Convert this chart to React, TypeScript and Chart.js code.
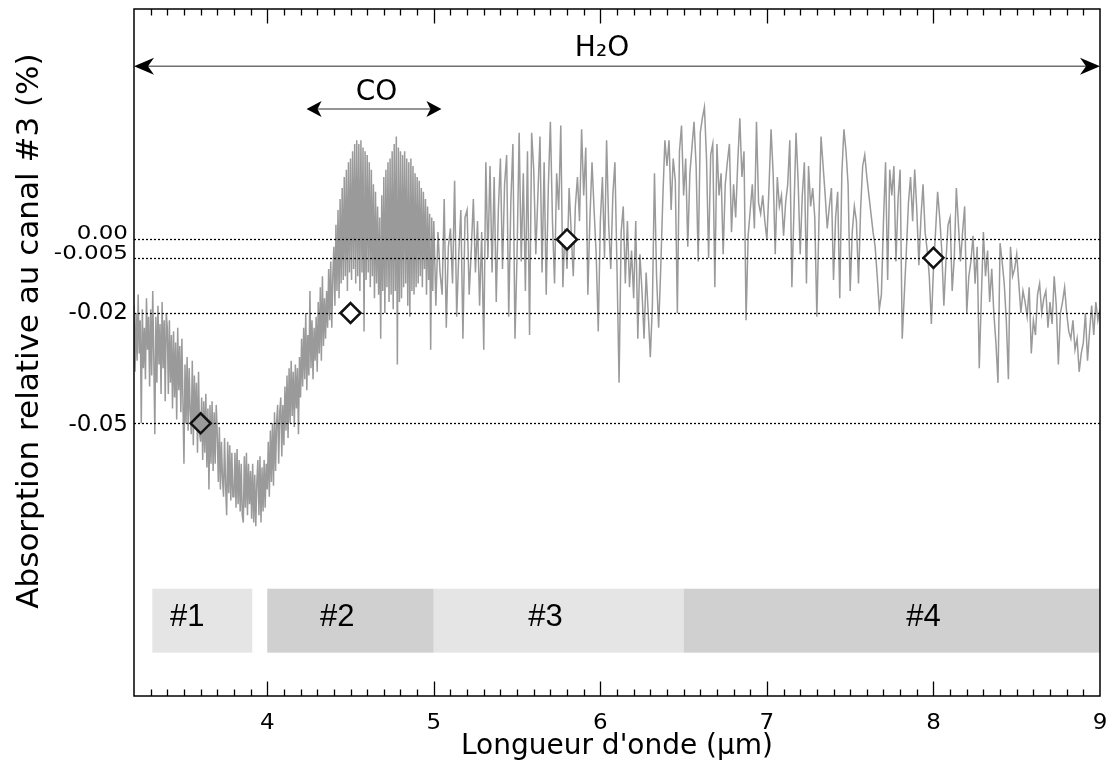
import { useEffect, useRef } from "react";
import { Chart, registerables } from "chart.js";

Chart.register(...registerables);

// ---- spectrum, part A: 3.2 µm to 5.0 µm, sampled every 0.00625 µm ----
const SEGMENT_A_START = 3.2;
const SEGMENT_A_STEP = 0.00625;
const ABSORPTION_A = [
  -0.018, -0.036, -0.02, -0.033, -0.015, -0.031, -0.022, -0.05, -0.019, -0.035, -0.024, -0.038, -0.016, -0.03, -0.021, -0.04,
  -0.019, -0.037, -0.014, -0.032, -0.053, -0.021, -0.039, -0.018, -0.034, -0.023, -0.042, -0.017, -0.035, -0.022, -0.044, -0.02,
  -0.024, -0.042, -0.022, -0.039, -0.026, -0.046, -0.025, -0.043, -0.028, -0.049, -0.024, -0.041, -0.029, -0.047, -0.027, -0.044,
  -0.061, -0.034, -0.05, -0.032, -0.052, -0.035, -0.047, -0.053, -0.033, -0.056, -0.037, -0.051, -0.039, -0.058, -0.036, -0.053,
  -0.055, -0.043, -0.06, -0.044, -0.058, -0.042, -0.062, -0.046, -0.068, -0.045, -0.061, -0.044, -0.063, -0.047, -0.061, -0.045,
  -0.053, -0.066, -0.051, -0.068, -0.055, -0.065, -0.07, -0.054, -0.067, -0.075, -0.055, -0.069, -0.056, -0.071, -0.058, -0.07,
  -0.07, -0.058, -0.073, -0.057, -0.072, -0.06, -0.074, -0.061, -0.075, -0.077, -0.059, -0.073, -0.058, -0.075, -0.061, -0.072,
  -0.063, -0.076, -0.061, -0.077, -0.064, -0.078, -0.066, -0.06, -0.075, -0.059, -0.077, -0.062, -0.074, -0.06, -0.073, -0.061,
  -0.068, -0.055, -0.07, -0.052, -0.066, -0.05, -0.067, -0.047, -0.063, -0.05, -0.045, -0.061, -0.047, -0.043, -0.059, -0.045,
  -0.056, -0.04, -0.052, -0.037, -0.054, -0.035, -0.05, -0.033, -0.048, -0.036, -0.051, -0.034, -0.046, -0.035, -0.053, -0.032,
  -0.043, -0.027, -0.04, -0.024, -0.038, -0.02, -0.041, -0.026, -0.037, -0.014, -0.035, -0.022, -0.038, -0.024, -0.033, -0.021,
  -0.036, -0.017, -0.031, -0.013, -0.033, -0.01, -0.029, -0.016, -0.027, -0.014, -0.024, -0.008, -0.022, -0.006, -0.024, -0.01,
  -0.002, -0.018, 0.004, -0.014, 0.008, -0.016, 0.011, -0.012, 0.014, -0.011, 0.017, -0.01, 0.019, -0.014, 0.021, -0.009,
  0.022, -0.011, 0.024, -0.008, 0.026, -0.012, 0.027, -0.01, 0.026, -0.014, 0.027, -0.009, 0.025, -0.025, 0.024, -0.011,
  0.023, -0.009, 0.021, -0.013, 0.019, -0.01, 0.015, -0.016, 0.013, -0.012, 0.009, -0.015, 0.006, -0.027, 0.012, -0.014,
  0.017, -0.02, 0.019, -0.013, 0.021, -0.017, 0.022, -0.015, 0.024, -0.019, 0.026, -0.014, 0.028, -0.034, 0.025, -0.017,
  0.024, -0.016, 0.023, -0.013, 0.024, -0.012, 0.022, -0.018, 0.021, -0.021, 0.022, -0.014, 0.02, -0.015, 0.018, -0.013,
  0.017, -0.012, 0.016, -0.01, 0.014, -0.013, 0.013, -0.008, 0.011, -0.015, 0.009, -0.011, 0.007, -0.03, 0.006, -0.014,
];

// ---- spectrum, part B: 5.0 µm to 9.0 µm, sampled every 0.0125 µm ----
const SEGMENT_B_START = 5.0;
const SEGMENT_B_STEP = 0.0125;
const ABSORPTION_B = [
  0.005, -0.018, 0.002, -0.009, -0.015, 0.011, -0.024, -0.002,
  0.003, -0.012, 0.016, -0.021, -0.004, 0.008, -0.027, 0.006,
  0.008, -0.015, -0.003, 0.011, -0.009, 0.005, -0.018, 0.002,
  -0.03, 0.021, -0.005, 0.02, -0.009, 0.017, -0.017, 0.008,
  0.022, -0.008, 0.015, 0.023, -0.021, 0.01, 0.026, -0.027,
  -0.004, 0.029, -0.006, 0.018, -0.014, 0.024, -0.026, 0.029,
  0.019, -0.004, 0.012, 0.028, -0.009, 0.021, -0.015, 0.014,
  0.032, 0.005, -0.012, 0.018, 0.008, 0.031, -0.013, 0.003,
  -0.008, 0.014, 0.002, -0.01, 0.009, 0.017, 0.005, 0.03,
  0.012, 0.025, -0.015, 0.006, 0.021, 0.008, -0.004, -0.025,
  0.005, 0.017, -0.005, 0.027, 0.004, -0.008, 0.012, 0.021,
  -0.008, -0.039, 0.002, 0.009, -0.012, 0.005, -0.013, -0.003,
  -0.016, 0.005, -0.027, -0.004, -0.014, -0.027, -0.009, -0.02,
  -0.032, -0.018, 0.018, -0.01, -0.024, -0.008, 0.011, 0.027,
  0.02, 0.027, 0.008, 0.022, 0.016, -0.02, 0.024, 0.031,
  0.012, 0.022, -0.002, 0.018, 0.025, 0.032, 0.02, -0.006,
  0.029, 0.033, 0.036, 0.022, -0.005, 0.023, 0.026, -0.013,
  0.026, 0.012, 0.018, -0.004, 0.015, 0.021, 0.026, 0.002,
  0.015, 0.006, 0.021, 0.033, 0.017, 0.024, -0.022, 0.001,
  0.008, 0.015, 0.003, 0.032, 0.01, 0.007, 0.012, 0.005,
  0.0, 0.014, 0.03, 0.018, -0.004, 0.017, 0.009, 0.012,
  0.001, 0.01, 0.015, 0.027, -0.013, 0.008, 0.029, 0.016,
  -0.004, 0.012, 0.021, -0.012, 0.02, 0.009, 0.014, 0.006,
  -0.021, 0.005, 0.028, 0.02, 0.012, 0.003, 0.009, 0.014,
  -0.011, 0.006, 0.013, -0.016, 0.018, 0.03, 0.024, 0.015,
  -0.014, 0.002, 0.009, 0.005, -0.012, 0.008, 0.02, 0.023,
  0.017, 0.012, 0.007, 0.002, -0.002, -0.01, -0.019, -0.015,
  0.005, 0.021, -0.011, 0.019, 0.012, 0.02, -0.006, 0.011,
  0.019, -0.027, -0.015, -0.003, 0.01, 0.017, 0.005, 0.019,
  0.008, -0.007, 0.006, 0.015, 0.002, -0.003, -0.01, -0.023,
  -0.008, 0.002, 0.013, 0.006, -0.003, -0.018, -0.006, 0.004,
  0.006, -0.014, -0.005, 0.014, 0.004, -0.006, 0.002, 0.009,
  -0.02, -0.01, -0.006, 0.001, -0.012, -0.002, -0.035, -0.016,
  0.002, -0.01, -0.003, -0.017, -0.008, -0.02, -0.028, -0.039,
  -0.001, -0.006, -0.012, -0.022, -0.038, -0.002, -0.01, -0.008,
  -0.004, -0.012, -0.02, -0.014, -0.017, -0.021, -0.013, -0.031,
  -0.022, -0.026, -0.015, -0.012, -0.02, -0.016, -0.014, -0.024,
  -0.017, -0.023, -0.01, -0.018, -0.034, -0.02, -0.017, -0.013,
  -0.02, -0.025, -0.027, -0.022, -0.03, -0.027, -0.036, -0.031,
  -0.028, -0.02, -0.033, -0.025, -0.018, -0.026, -0.017, -0.022,
  -0.019,
];

// ---- reference points (diamonds) ----
const MARKER_WAVELENGTH = [3.6, 4.5, 5.8, 8.0];
const MARKER_ABSORPTION = [-0.05, -0.02, 0.0, -0.005];
const MARKER_FILL = ["#9a9a9a", "#ffffff", "#ffffff", "#ffffff"];

// ---- axes ----
const X_MIN = 3.2;
const X_MAX = 9.0;
const X_TICKS = [4, 5, 6, 7, 8, 9];
const X_TICK_LABELS = ["4", "5", "6", "7", "8", "9"];
const X_MINOR_STEP = 0.1;
const Y_MIN = -0.12419;
const Y_MAX = 0.0627;
const Y_TICKS = [0, -0.005, -0.02, -0.05];
const Y_TICK_LABELS = ["0.00", "-0.005", "-0.02", "-0.05"];

// ---- channels ----
const BAND_NAMES = ["#1", "#2", "#3", "#4"];
const BAND_START = [3.31, 4.0, 5.0, 6.5];
const BAND_END = [3.91, 5.0, 6.5, 9.0];
const BAND_TOP = -0.095;
const BAND_BOTTOM = -0.1124;
const BAND_LABEL_X = [3.52, 4.42, 5.67, 7.94];
const BAND_LABEL_Y = -0.1025;

// ---- molecule ranges ----
const MOLECULES = ["H₂O", "CO"];
const MOLECULE_FROM = [3.2, 4.236];
const MOLECULE_TO = [9.0, 5.046];
const MOLECULE_Y = [0.0471, 0.0355];
const MOLECULE_LABEL_X = [6.01, 4.656];
const MOLECULE_LABEL_Y = [0.0518, 0.0398];

const X_TITLE = "Longueur d'onde (µm)";
const Y_TITLE = "Absorption relative au canal #3 (%)";

const FONT = "'DejaVu Sans', sans-serif";

function arrowHead(ctx: CanvasRenderingContext2D, tipX: number, y: number, dir: number, len: number, half: number, notch: number) {
  ctx.beginPath();
  ctx.moveTo(tipX, y);
  ctx.lineTo(tipX + dir * len, y - half);
  ctx.lineTo(tipX + dir * notch, y);
  ctx.lineTo(tipX + dir * len, y + half);
  ctx.closePath();
  ctx.fill();
}

const decorPlugin = {
  id: "decor",
  beforeDatasetsDraw(chart: any) {
    const { ctx, scales } = chart;
    const x = scales.x, y = scales.y;
    ctx.save();
    BAND_START.forEach((s, i) => {
      const x0 = x.getPixelForValue(s);
      const x1 = x.getPixelForValue(BAND_END[i]);
      const y0 = y.getPixelForValue(BAND_TOP);
      const y1 = y.getPixelForValue(BAND_BOTTOM);
      ctx.fillStyle = i % 2 === 0 ? "#e5e5e5" : "#d0d0d0";
      ctx.fillRect(x0, y0, x1 - x0, y1 - y0);
    });
    ctx.fillStyle = "#000";
    ctx.font = "31px 'Liberation Sans', sans-serif";
    ctx.textAlign = "center";
    ctx.textBaseline = "middle";
    BAND_NAMES.forEach((n, i) => {
      ctx.fillText(n, x.getPixelForValue(BAND_LABEL_X[i]), y.getPixelForValue(BAND_LABEL_Y) + 1);
    });
    ctx.restore();
  },
  afterDatasetDraw(chart: any, args: any) {
    if (args.index !== 1) return;
    const { ctx, chartArea: a, scales } = chart;
    const y = scales.y;
    ctx.save();
    ctx.strokeStyle = "#000";
    ctx.lineWidth = 1.3;
    ctx.setLineDash([2, 2]);
    Y_TICKS.forEach((v) => {
      const py = Math.round(y.getPixelForValue(v)) + 0.5;
      ctx.beginPath();
      ctx.moveTo(a.left, py);
      ctx.lineTo(a.right, py);
      ctx.stroke();
    });
    ctx.restore();
  },
  afterDraw(chart: any) {
    const { ctx, chartArea: a, scales } = chart;
    const x = scales.x, y = scales.y;
    ctx.save();
    // frame
    ctx.strokeStyle = "#000";
    ctx.lineWidth = 1.5;
    ctx.strokeRect(a.left, a.top, a.right - a.left, a.bottom - a.top);
    // inward ticks, top and bottom
    ctx.lineWidth = 1.3;
    const drawTick = (v: number, len: number) => {
      const px = Math.round(x.getPixelForValue(v)) + 0.5;
      ctx.beginPath();
      ctx.moveTo(px, a.top);
      ctx.lineTo(px, a.top + len);
      ctx.moveTo(px, a.bottom);
      ctx.lineTo(px, a.bottom - len);
      ctx.stroke();
    };
    for (let i = 1; X_MIN + i * X_MINOR_STEP < X_MAX - 1e-6; i++) {
      const v = X_MIN + i * X_MINOR_STEP;
      if (X_TICKS.some((t) => Math.abs(t - v) < 1e-6)) continue;
      drawTick(v, 6.5);
    }
    X_TICKS.forEach((t) => { if (t < X_MAX - 1e-6) drawTick(t, 14.5); });

    ctx.fillStyle = "#000";
    ctx.textBaseline = "middle";

    // x tick labels
    ctx.textAlign = "center";
    X_TICKS.forEach((t, i) => {
      ctx.save();
      ctx.translate(x.getPixelForValue(t), a.bottom + 28);
      ctx.scale(1, 0.9);
      ctx.font = `23px ${FONT}`;
      ctx.fillText(X_TICK_LABELS[i], 0, 0);
      ctx.restore();
    });

    // x title
    ctx.font = `28px ${FONT}`;
    ctx.fillText(X_TITLE, (a.left + a.right) / 2, a.bottom + 51);

    // y tick labels
    ctx.textAlign = "right";
    const shifts = [-6, -4, 0, 1.5];
    const vscale = [0.85, 0.85, 1, 1];
    Y_TICKS.forEach((v, i) => {
      ctx.save();
      ctx.translate(a.left - 6, y.getPixelForValue(v) + shifts[i]);
      ctx.scale(1, vscale[i]);
      ctx.font = `23px ${FONT}`;
      ctx.fillText(Y_TICK_LABELS[i], 0, 0);
      ctx.restore();
    });

    // y title
    ctx.save();
    ctx.translate(30, 331);
    ctx.rotate(-Math.PI / 2);
    ctx.textAlign = "center";
    ctx.font = `31px ${FONT}`;
    ctx.fillText(Y_TITLE, 0, 0);
    ctx.restore();

    // molecule arrows
    MOLECULES.forEach((m, i) => {
      const x0 = x.getPixelForValue(MOLECULE_FROM[i]);
      const x1 = x.getPixelForValue(MOLECULE_TO[i]);
      const py = y.getPixelForValue(MOLECULE_Y[i]);
      const big = i === 0;
      const len = big ? 20 : 15;
      const half = big ? 8.5 : 8;
      const notch = big ? 14 : 11;
      ctx.strokeStyle = "#707070";
      ctx.lineWidth = 1.5;
      ctx.setLineDash([]);
      ctx.beginPath();
      ctx.moveTo(x0 + notch, py);
      ctx.lineTo(x1 - notch, py);
      ctx.stroke();
      ctx.fillStyle = "#000";
      arrowHead(ctx, x0, py, 1, len, half, notch);
      arrowHead(ctx, x1, py, -1, len, half, notch);
      ctx.font = `28px ${FONT}`;
      ctx.textAlign = "center";
      ctx.textBaseline = "middle";
      ctx.fillText(m, x.getPixelForValue(MOLECULE_LABEL_X[i]), y.getPixelForValue(MOLECULE_LABEL_Y[i]));
    });
    ctx.restore();
  },
};

export default function App() {
  const canvasRef = useRef<HTMLCanvasElement | null>(null);

  useEffect(() => {
    const canvas = canvasRef.current;
    if (!canvas) return;
    const spectrum = [
      ...ABSORPTION_A.map((v, i) => ({ x: SEGMENT_A_START + i * SEGMENT_A_STEP, y: v })),
      ...ABSORPTION_B.map((v, i) => ({ x: SEGMENT_B_START + i * SEGMENT_B_STEP, y: v })),
    ];
    const markers = MARKER_WAVELENGTH.map((w, i) => ({ x: w, y: MARKER_ABSORPTION[i] }));
    const chart = new Chart(canvas, {
      type: "line",
      data: {
        datasets: [
          {
            type: "scatter",
            data: markers,
            pointStyle: "rectRot",
            pointRadius: 10,
            pointBorderWidth: 2.5,
            pointBorderColor: "#111",
            pointBackgroundColor: MARKER_FILL,
            showLine: false,
          } as any,
          {
            data: spectrum,
            borderColor: "#9a9a9a",
            borderWidth: 1.5,
            pointRadius: 0,
            tension: 0,
            fill: false,
          },
        ],
      },
      options: {
        responsive: false,
        devicePixelRatio: 1,
        animation: false,
        events: [],
        layout: { autoPadding: false, padding: { left: 0, right: 13, top: 9, bottom: 0 } },
        plugins: { legend: { display: false }, tooltip: { enabled: false } },
        scales: {
          x: {
            type: "linear",
            min: X_MIN,
            max: X_MAX,
            afterBuildTicks: (s: any) => { s.ticks = X_TICKS.map((v) => ({ value: v })); },
            afterFit: (s: any) => { s.height = 82; },
            grid: { display: false, drawTicks: false },
            border: { display: false },
            ticks: { display: false },
          },
          y: {
            type: "linear",
            min: Y_MIN,
            max: Y_MAX,
            afterBuildTicks: (s: any) => { s.ticks = Y_TICKS.map((v) => ({ value: v })); },
            afterFit: (s: any) => { s.width = 134; },
            grid: { display: false, drawTicks: false },
            border: { display: false },
            ticks: { display: false },
          },
        },
      },
      plugins: [decorPlugin],
    });
    return () => chart.destroy();
  }, []);

  return (
    <div style={{ position: "absolute", left: 0, top: 0, width: 1113, height: 778, background: "#fff" }}>
      <canvas ref={canvasRef} width={1113} height={778} style={{ display: "block", width: 1113, height: 778 }} />
    </div>
  );
}
